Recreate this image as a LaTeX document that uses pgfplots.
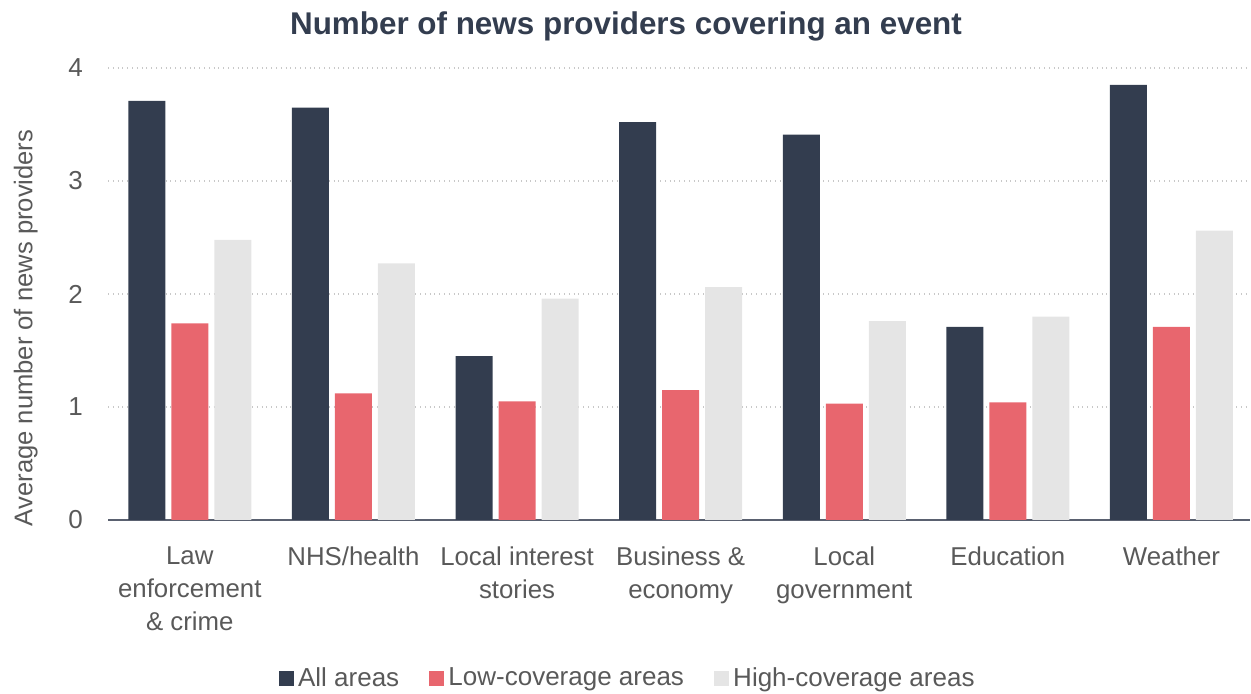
\documentclass[border=0pt]{standalone}
\usepackage{pgfplots}
\pgfplotsset{compat=1.18}
\usepackage{fontspec}
\setmainfont{Liberation Sans}
\definecolor{cdark}{HTML}{333D4F}
\definecolor{cred}{HTML}{E8666E}
\definecolor{cgray}{HTML}{E5E5E5}
\definecolor{ctext}{HTML}{595959}
\definecolor{ctitle}{HTML}{333D4F}
\definecolor{cgrid}{HTML}{C8C8C8}
\definecolor{caxis}{HTML}{5A6170}
\begin{document}
\begin{tikzpicture}
\path[use as bounding box] (0,0) rectangle (625.5pt,347pt);
\node[font=\fontsize{15.7}{18}\selectfont\bfseries, text=ctitle] at (313pt,334pt) {Number of news providers covering an event};
\begin{axis}[
  at={(54pt,87pt)}, anchor=south west,
  scale only axis, width=571pt, height=226pt,
  ybar=3pt, bar width=18.5pt,
  xmin=-0.5, xmax=6.48, ymin=0, ymax=4,
  xtick=data,
  xticklabels={{Law\\enforcement\\\& crime},{NHS/health},{Local interest\\stories},{Business \&\\economy},{Local\\government},{Education},{Weather}},
  xticklabel style={align=center, font=\fontsize{12.9}{16.4}\selectfont, text=ctext, yshift=-10pt},
  ytick={0,1,2,3,4},
  yticklabel style={font=\fontsize{13}{15}\selectfont, text=ctext, xshift=-9pt},
  /pgf/number format/assume math mode=true,
  major tick length=0pt,
  axis x line*=bottom, axis y line*=left,
  y axis line style={draw=none},
  x axis line style={draw=caxis, line width=0.8pt},
  ymajorgrids, grid style={cgrid, dotted, line width=0.6pt},
  ylabel={Average number of news providers},
  ylabel style={at={(axis description cs:-0.072,0.425)}, anchor=center, font=\fontsize{12.8}{15}\selectfont, text=ctext},
  legend columns=3,
  legend style={at={(axis description cs:0.456,-0.35)}, anchor=center, draw=none, fill=none,
    font=\fontsize{13}{15}\selectfont, text=ctext, /tikz/every even column/.append style={column sep=13pt}},
  legend image code/.code={\fill[#1] (0pt,-3.8pt) rectangle (7.6pt,3.8pt);},
  clip=false,
]
\addplot[fill=cdark, draw=none] coordinates {(0,3.71) (1,3.65) (2,1.45) (3,3.52) (4,3.41) (5,1.71) (6,3.85)};
\addplot[fill=cred, draw=none] coordinates {(0,1.74) (1,1.12) (2,1.05) (3,1.15) (4,1.03) (5,1.04) (6,1.71)};
\addplot[fill=cgray, draw=none] coordinates {(0,2.48) (1,2.27) (2,1.96) (3,2.06) (4,1.76) (5,1.80) (6,2.56)};
\legend{All areas, Low-coverage areas, High-coverage areas}
\end{axis}
\end{tikzpicture}
\end{document}
